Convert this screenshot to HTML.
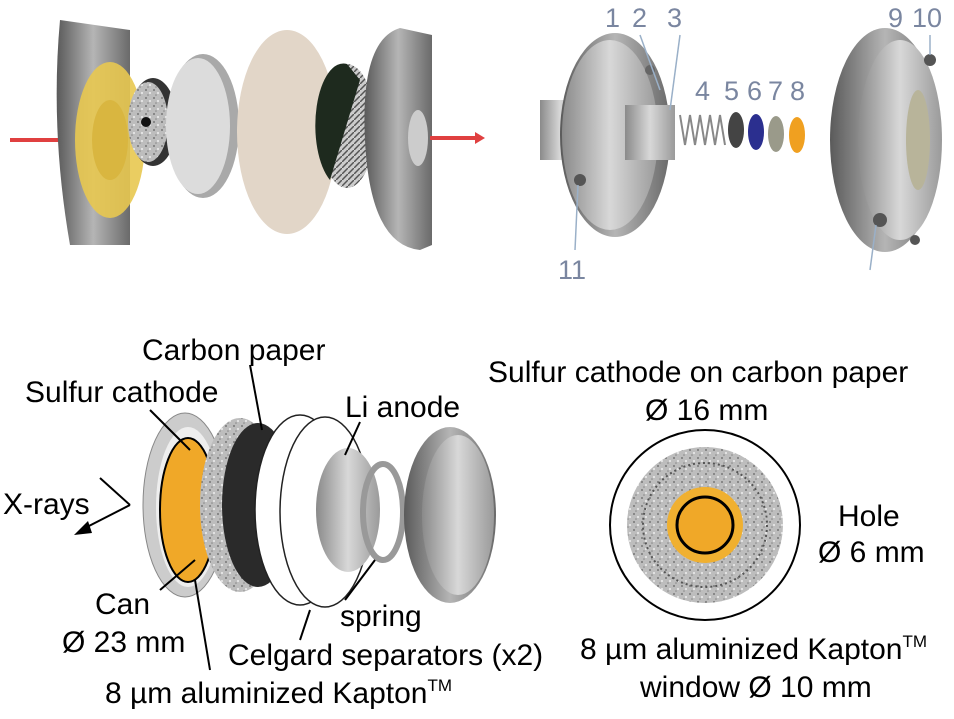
<!DOCTYPE html>
<html><head><meta charset="utf-8"><style>
html,body{margin:0;padding:0;background:#fff;}
svg{display:block;}
text{font-family:"Liberation Sans",sans-serif;}
</style></head><body>
<svg width="954" height="719" viewBox="0 0 954 719" xmlns="http://www.w3.org/2000/svg">
<defs>
<linearGradient id="met" x1="0" x2="1"><stop offset="0" stop-color="#5a5a5a"/><stop offset="0.5" stop-color="#b5b5b5"/><stop offset="1" stop-color="#6a6a6a"/></linearGradient>
<linearGradient id="met2" x1="0" x2="1"><stop offset="0" stop-color="#8a8a8a"/><stop offset="0.5" stop-color="#d8d8d8"/><stop offset="1" stop-color="#9a9a9a"/></linearGradient>
<pattern id="hatch" width="6" height="6" patternUnits="userSpaceOnUse"><rect width="6" height="6" fill="#ccc"/><path d="M0 6L6 0" stroke="#555" stroke-width="1.5"/></pattern>
<pattern id="speck" width="8" height="8" patternUnits="userSpaceOnUse"><rect width="8" height="8" fill="#bdbdbd"/><circle cx="2" cy="2" r="1" fill="#777"/><circle cx="6" cy="5" r="1" fill="#eee"/><circle cx="4" cy="7" r="0.8" fill="#888"/></pattern>
</defs>

<!-- TOP LEFT -->
<line x1="10" y1="140" x2="100" y2="140" stroke="#e04040" stroke-width="4"/>
<path d="M60 20 Q50 130 70 245 L130 245 L130 30 Z" fill="url(#met)"/>
<ellipse cx="110" cy="140" rx="35" ry="78" fill="#e8c850" opacity="0.9"/>
<ellipse cx="110" cy="140" rx="18" ry="40" fill="#d9b640"/>
<ellipse cx="153" cy="122" rx="24" ry="44" fill="#333"/>
<ellipse cx="148" cy="122" rx="20" ry="40" fill="url(#speck)"/>
<circle cx="146" cy="122" r="5" fill="#111"/>
<ellipse cx="203" cy="126" rx="36" ry="72" fill="#a9a9a9"/>
<ellipse cx="198" cy="126" rx="32" ry="68" fill="#dcdcdc"/>
<ellipse cx="287" cy="132" rx="50" ry="102" fill="#e2d6c8"/>
<ellipse cx="347" cy="126" rx="28" ry="62" fill="url(#hatch)"/>
<path d="M347 64 A28 62 0 0 0 330 180 L360 80 Z" fill="#1e2a1e"/>
<path d="M400 28 Q360 40 365 140 Q370 245 420 250 L432 245 L432 35 Z" fill="url(#met)"/>
<ellipse cx="418" cy="138" rx="10" ry="28" fill="#ccc"/>
<line x1="430" y1="138" x2="475" y2="138" stroke="#e04040" stroke-width="4"/>
<polygon points="475,132 485,138 475,144" fill="#e04040"/>

<!-- TOP RIGHT -->
<rect x="540" y="100" width="40" height="60" fill="url(#met2)"/>
<ellipse cx="615" cy="135" rx="55" ry="102" fill="url(#met)"/>
<ellipse cx="610" cy="135" rx="48" ry="95" fill="url(#met2)"/>
<rect x="625" y="105" width="50" height="55" fill="url(#met2)"/>
<circle cx="580" cy="180" r="6" fill="#555"/>
<circle cx="650" cy="70" r="5" fill="#666"/>
<path d="M680 115 l5 30 l5 -30 l5 30 l5 -30 l5 30 l5 -30 l5 30 l5 -30 l5 30" fill="none" stroke="#888" stroke-width="2"/>
<ellipse cx="736" cy="130" rx="8" ry="18" fill="#444"/>
<ellipse cx="756" cy="132" rx="8" ry="18" fill="#2b2f8f"/>
<ellipse cx="776" cy="134" rx="8" ry="18" fill="#9a9a8a"/>
<ellipse cx="797" cy="135" rx="8" ry="18" fill="#f0a020"/>
<ellipse cx="885" cy="140" rx="55" ry="112" fill="url(#met)"/>
<ellipse cx="900" cy="140" rx="42" ry="100" fill="url(#met2)"/>
<ellipse cx="918" cy="140" rx="12" ry="50" fill="#b8b49a"/>
<circle cx="880" cy="220" r="7" fill="#555"/><circle cx="930" cy="60" r="6" fill="#555"/><circle cx="915" cy="240" r="5" fill="#555"/>
<g stroke="#9ab0c8" stroke-width="1.5"><line x1="640" y1="35" x2="660" y2="90"/><line x1="680" y1="35" x2="670" y2="110"/><line x1="575" y1="250" x2="578" y2="185"/><line x1="870" y1="270" x2="876" y2="225"/><line x1="930" y1="35" x2="930" y2="55"/></g>
<g fill="#7a86a0" font-size="27"><text x="605" y="27">1</text><text x="632" y="27">2</text><text x="667" y="27">3</text>
<text x="695" y="100">4</text><text x="724" y="100">5</text><text x="747" y="100">6</text><text x="768" y="100">7</text><text x="790" y="100">8</text>
<text x="558" y="279">11</text><text x="888" y="27">9</text><text x="912" y="27">10</text></g>

<!-- BOTTOM LEFT -->
<ellipse cx="185" cy="505" rx="42" ry="92" fill="#ccc" stroke="#888"/>
<ellipse cx="188" cy="507" rx="32" ry="80" fill="#eee"/>
<ellipse cx="188" cy="510" rx="28" ry="72" fill="#f0a828" stroke="#000" stroke-width="2"/>
<ellipse cx="240" cy="505" rx="40" ry="87" fill="url(#speck)"/>
<ellipse cx="258" cy="505" rx="36" ry="82" fill="#2a2a2a"/>
<ellipse cx="300" cy="510" rx="45" ry="95" fill="#fff" stroke="#222" stroke-width="1.5"/>
<ellipse cx="325" cy="512" rx="45" ry="95" fill="#fff" stroke="#222" stroke-width="1.5"/>
<ellipse cx="348" cy="510" rx="32" ry="62" fill="url(#met2)"/>
<ellipse cx="383" cy="512" rx="20" ry="48" fill="none" stroke="#999" stroke-width="6"/>
<ellipse cx="450" cy="515" rx="46" ry="88" fill="url(#met)"/>
<ellipse cx="458" cy="515" rx="36" ry="80" fill="url(#met2)"/>
<g stroke="#000" stroke-width="2" fill="none">
<line x1="250" y1="365" x2="262" y2="430"/><line x1="150" y1="410" x2="190" y2="450"/>
<line x1="360" y1="422" x2="345" y2="455"/>
<line x1="100" y1="478" x2="130" y2="505"/><line x1="130" y1="505" x2="85" y2="528"/>
<line x1="160" y1="590" x2="195" y2="560"/><line x1="210" y1="670" x2="195" y2="580"/>
<line x1="300" y1="640" x2="310" y2="610"/><line x1="345" y1="600" x2="375" y2="560"/>
</g>
<polygon points="74,535 88,521 92,533" fill="#000"/>
<g font-size="30" fill="#000">
<text x="142" y="360">Carbon paper</text>
<text x="25" y="402">Sulfur cathode</text>
<text x="345" y="417">Li anode</text>
<text x="3" y="514">X-rays</text>
<text x="95" y="614">Can</text>
<text x="62" y="652">Ø 23 mm</text>
<text x="340" y="626">spring</text>
<text x="228" y="665">Celgard separators (x2)</text>
<text x="105" y="703">8 µm aluminized Kapton<tspan font-size="17" dy="-12">TM</tspan></text>

<!-- BOTTOM RIGHT -->
<text x="488" y="382">Sulfur cathode on carbon paper</text>
<text x="645" y="420">Ø 16 mm</text>
<text x="838" y="526">Hole</text>
<text x="818" y="562">Ø 6 mm</text>
<text x="580" y="659">8 µm aluminized Kapton<tspan font-size="17" dy="-12">TM</tspan></text>
<text x="640" y="697">window Ø 10 mm</text>
</g>
<circle cx="705" cy="525" r="95" fill="#fff" stroke="#000" stroke-width="2"/>
<circle cx="705" cy="525" r="78" fill="url(#speck)"/>
<circle cx="705" cy="525" r="62" fill="none" stroke="#555" stroke-width="2" stroke-dasharray="2 3"/>
<circle cx="705" cy="525" r="38" fill="#f0b030"/>
<circle cx="705" cy="525" r="28" fill="#f0a828" stroke="#000" stroke-width="3"/>
</svg>
</body></html>
